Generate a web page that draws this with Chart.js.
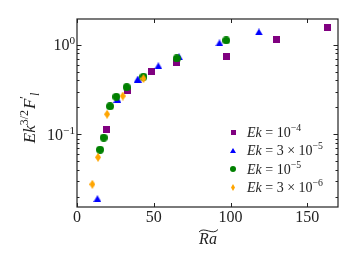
<!DOCTYPE html>
<html>
<head>
<meta charset="utf-8">
<script src="https://cdn.jsdelivr.net/npm/chart.js@4"></script>
<style>
  html, body { margin: 0; padding: 0; background: #fff; }
  #wrap { width: 357px; height: 268px; position: relative; }
</style>
</head>
<body>
<div id="wrap"><canvas id="chart"></canvas></div>
<script>
// data
var ek4X = [19.4, 32.6, 48.7, 65.0, 97.6, 130.2, 162.9];
var ek4Y = [0.113, 0.31, 0.509, 0.641, 0.735, 1.15, 1.57];
var ek3e5X = [13.3, 26.3, 39.6, 53.0, 66.5, 92.8, 118.5];
var ek3e5Y = [0.0192, 0.246, 0.415, 0.583, 0.734, 1.05, 1.39];
var ek1e5X = [15.0, 17.4, 21.5, 25.6, 32.4, 43.3, 65.0, 97.2];
var ek1e5Y = [0.0675, 0.092, 0.206, 0.263, 0.337, 0.44, 0.705, 1.12];
var ek3e6X = [10.0, 13.7, 19.6, 29.8, 43.3];
var ek3e6Y = [0.0278, 0.0556, 0.168, 0.268, 0.42];

var xTicks = [0, 50, 100, 150];
var yTicks = [0.1, 1];
var yTickExp = ['\u22121', '0'];

var SERIF = '"Liberation Serif", "DejaVu Serif", serif';
var TXT = '#222';

function pts(xs, ys) {
  var out = [];
  for (var i = 0; i < xs.length; i++) out.push({x: xs[i], y: ys[i]});
  return out;
}

// small canvases used as point styles
function marker(kind, w, h, color) {
  var c = document.createElement('canvas');
  c.width = w; c.height = h;
  var g = c.getContext('2d');
  g.fillStyle = color;
  g.beginPath();
  if (kind == 'square') {
    g.rect(0, 0, w, h);
  } else if (kind == 'tri') {
    g.moveTo(w / 2, 0); g.lineTo(w, h); g.lineTo(0, h); g.closePath();
  } else if (kind == 'circle') {
    g.arc(w / 2, h / 2, w / 2, 0, Math.PI * 2);
  } else {
    g.moveTo(w / 2, 0); g.lineTo(w, h / 2); g.lineTo(w / 2, h); g.lineTo(0, h / 2); g.closePath();
  }
  g.fill();
  return c;
}

var PURPLE = '#800080', BLUE = '#0000ff', GREEN = '#008000', ORANGE = '#ffa500';

var mSq = marker('square', 7, 7, PURPLE);
var mTri = marker('tri', 8, 7, BLUE);
var mCir = marker('circle', 8, 8, GREEN);
var mDia = marker('dia', 6, 9, ORANGE);

var legendItems = [
  {m: marker('square', 5, 5, PURPLE), parts: [{t: 'Ek', it: 1}, {t: ' = 10'}, {t: '\u22124', s: 'sup'}]},
  {m: marker('tri', 6, 5, BLUE), parts: [{t: 'Ek', it: 1}, {t: ' = 3 \u00d7 10'}, {t: '\u22125', s: 'sup'}]},
  {m: marker('circle', 6, 6, GREEN), parts: [{t: 'Ek', it: 1}, {t: ' = 10'}, {t: '\u22125', s: 'sup'}]},
  {m: marker('dia', 4, 7, ORANGE), parts: [{t: 'Ek', it: 1}, {t: ' = 3 \u00d7 10'}, {t: '\u22126', s: 'sup'}]}
];

// draw text with italics / super / subscripts
function richWidth(ctx, parts, size) {
  var w = 0;
  parts.forEach(function(p) {
    var sz = p.s ? size * 0.7 : size;
    ctx.font = (p.it ? 'italic ' : '') + sz + 'px ' + SERIF;
    w += ctx.measureText(p.t).width + (p.gap || 0);
  });
  return w;
}
function drawRich(ctx, parts, x, y, size, align) {
  var w = richWidth(ctx, parts, size);
  if (align == 'center') x -= w / 2;
  if (align == 'right') x -= w;
  ctx.textAlign = 'left';
  ctx.textBaseline = 'alphabetic';
  parts.forEach(function(p) {
    var sz = p.s ? size * 0.7 : size;
    var dy = p.s == 'sup' ? -size * 0.4 : (p.s == 'sub' ? size * 0.25 : 0);
    ctx.font = (p.it ? 'italic ' : '') + sz + 'px ' + SERIF;
    ctx.fillText(p.t, x, y + dy);
    x += ctx.measureText(p.t).width + (p.gap || 0);
  });
}

var decorations = {
  id: 'decorations',
  afterDraw: function(chart) {
    var ctx = chart.ctx;
    var a = chart.chartArea;
    var xs = chart.scales.x, ys = chart.scales.y;
    ctx.save();
    ctx.strokeStyle = '#222';
    ctx.lineWidth = 1;

    // ticks, pointing inwards on all four sides
    ctx.beginPath();
    xTicks.forEach(function(v) {
      var px = Math.round(xs.getPixelForValue(v)) + 0.5;
      ctx.moveTo(px, a.bottom); ctx.lineTo(px, a.bottom - 4);
      ctx.moveTo(px, a.top); ctx.lineTo(px, a.top + 4);
    });
    for (var e = -2; e <= 0; e++) {
      for (var k = 1; k <= 9; k++) {
        var v = k * Math.pow(10, e);
        if (v < ys.min || v > ys.max) continue;
        var py = Math.round(ys.getPixelForValue(v)) + 0.5;
        var len = k == 1 ? 4.5 : 2.5;
        ctx.moveTo(a.left, py); ctx.lineTo(a.left + len, py);
        ctx.moveTo(a.right, py); ctx.lineTo(a.right - len, py);
      }
    }
    ctx.stroke();

    // frame
    ctx.lineWidth = 1.2;
    ctx.strokeRect(a.left, a.top, a.right - a.left, a.bottom - a.top);

    // tick labels
    ctx.fillStyle = TXT;
    ctx.font = '16px ' + SERIF;
    ctx.textAlign = 'center';
    ctx.textBaseline = 'alphabetic';
    xTicks.forEach(function(v) {
      ctx.fillText(String(v), xs.getPixelForValue(v), a.bottom + 15);
    });
    yTicks.forEach(function(v, i) {
      drawRich(ctx, [{t: '10'}, {t: yTickExp[i], s: 'sup'}], a.left - 2, ys.getPixelForValue(v) + 5.5, 16, 'right');
    });

    // x title with a wide tilde
    ctx.font = 'italic 16px ' + SERIF;
    ctx.textAlign = 'center';
    ctx.fillText('Ra', 208, 244);
    ctx.beginPath();
    ctx.lineWidth = 1;
    ctx.moveTo(199, 232);
    ctx.bezierCurveTo(204, 226, 213, 236, 218, 229.5);
    ctx.stroke();

    // y title
    ctx.save();
    ctx.translate(35, 118);
    ctx.rotate(-Math.PI / 2);
    drawRich(ctx, [
      {t: 'Ek', it: 1}, {t: '3/2', s: 'sup', gap: 1},
      {t: 'F', it: 1}, {t: '\u2032', s: 'sup'}, {t: 'l', it: 1, s: 'sub'}
    ], 0, 0, 17, 'center');
    ctx.restore();

    // legend
    legendItems.forEach(function(it, i) {
      var cy = 132 + i * 18.5;
      ctx.drawImage(it.m, Math.round(233 - it.m.width / 2), Math.round(cy - it.m.height / 2));
      ctx.fillStyle = TXT;
      drawRich(ctx, it.parts, 247, cy + 4.5, 14, 'left');
    });
    ctx.restore();
  }
};

var ctx = document.getElementById('chart').getContext('2d');
var myChart = new Chart(ctx, {
  type: 'scatter',
  data: {
    datasets: [
      {label: 'Ek = 1e-4', data: pts(ek4X, ek4Y), pointStyle: mSq, order: 4},
      {label: 'Ek = 3e-5', data: pts(ek3e5X, ek3e5Y), pointStyle: mTri, order: 3},
      {label: 'Ek = 1e-5', data: pts(ek1e5X, ek1e5Y), pointStyle: mCir, order: 2},
      {label: 'Ek = 3e-6', data: pts(ek3e6X, ek3e6Y), pointStyle: mDia, order: 1}
    ]
  },
  options: {
    responsive: true,
    maintainAspectRatio: false,
    animation: false,
    layout: { padding: { left: 77, right: 19, top: 19, bottom: 61 } },
    plugins: { legend: { display: false }, tooltip: { enabled: false } },
    scales: {
      x: { type: 'linear', display: false, min: 0, max: 170 },
      y: { type: 'logarithmic', display: false, min: 0.0155, max: 1.94 }
    }
  },
  plugins: [decorations]
});
</script>
</body>
</html>
